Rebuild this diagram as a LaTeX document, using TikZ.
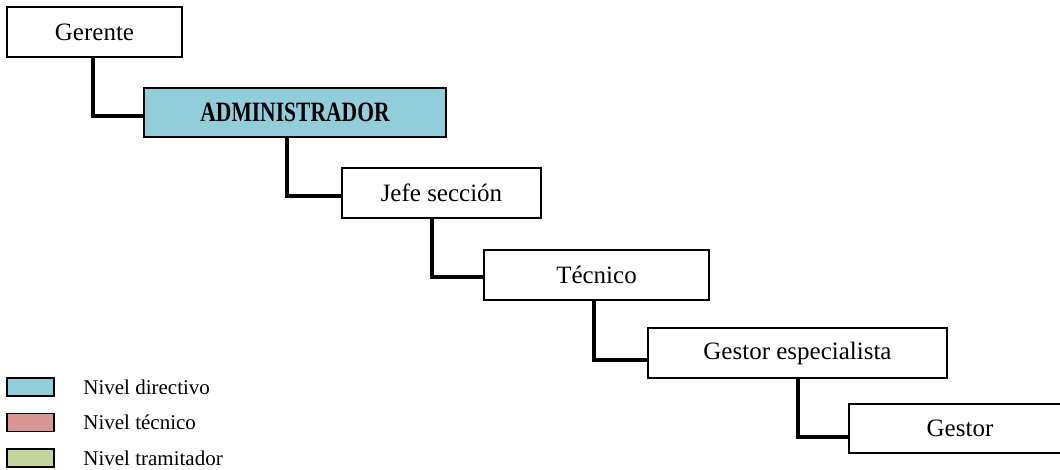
\documentclass[tikz,border=0pt]{standalone}
\usepackage{fontspec}
\setmainfont{Liberation Serif}
\definecolor{directivo}{HTML}{92CDDC}
\definecolor{tecnico}{HTML}{D99694}
\definecolor{tramitador}{HTML}{C3D69B}

\begin{document}
\begin{tikzpicture}[x = 0.5pt, y = -0.5pt,
        mbox/.style = {draw, line width = 0.75pt, inner sep = 0pt, minimum height = 25pt, font = \fontsize{12.5}{15}\selectfont},
        mline/.style = {line width = 2pt},
        mkey/.style = {draw, line width = 0.9pt, minimum width = 23.5pt, minimum height = 9pt, inner sep = 0pt}
        ]
        \useasboundingbox (0,0) rectangle (1060,470);
        \clip (0,0) rectangle (1060,470);

        \node[mbox, minimum width = 87.5pt] (ger) at (94.5,32) {Gerente};
        \node[mbox, fill = directivo, minimum width = 151pt, minimum height = 24.5pt] (adm) at (295,112.5)
            {\scalebox{0.77}[1]{\fontsize{14}{16}\selectfont\bfseries ADMINISTRADOR}};
        \node[mbox, minimum width = 99.5pt] (jefe) at (441.5,193) {Jefe sección};
        \node[mbox, minimum width = 112.5pt] (tec) at (596.5,275) {Técnico};
        \node[mbox, minimum width = 149.5pt] (esp) at (797.5,353) {Gestor especialista};
        \node[mbox, minimum width = 111pt, minimum height = 24.5pt] (ges) at (960,428.5) {Gestor};

        \draw[mline] ([xshift=-0.75pt]ger.south) |- ([yshift=-1.75pt]adm.west);
        \draw[mline] ([xshift=-4pt]adm.south) |- ([yshift=-1.5pt]jefe.west);
        \draw[mline] ([xshift=-4.75pt]jefe.south) |- ([yshift=-1pt]tec.west);
        \draw[mline] ([xshift=-1.5pt]tec.south) |- ([yshift=-3.5pt]esp.west);
        \draw[mline] (esp.south) |- ([yshift=-4.25pt]ges.west);

        % leyenda
        \foreach \c/\t [count=\i] in {directivo/Nivel directivo, tecnico/Nivel técnico, tramitador/Nivel tramitador}
        {
            \node[mkey, fill = \c] (key\i) at (30.5, 351.5+35.5*\i) {};
            \node[anchor = west, inner sep = 0pt, font = \fontsize{10.5}{12}\selectfont] (lab\i) at (83, 351.5+35.5*\i) {\t};
        }

\end{tikzpicture}
\end{document}
